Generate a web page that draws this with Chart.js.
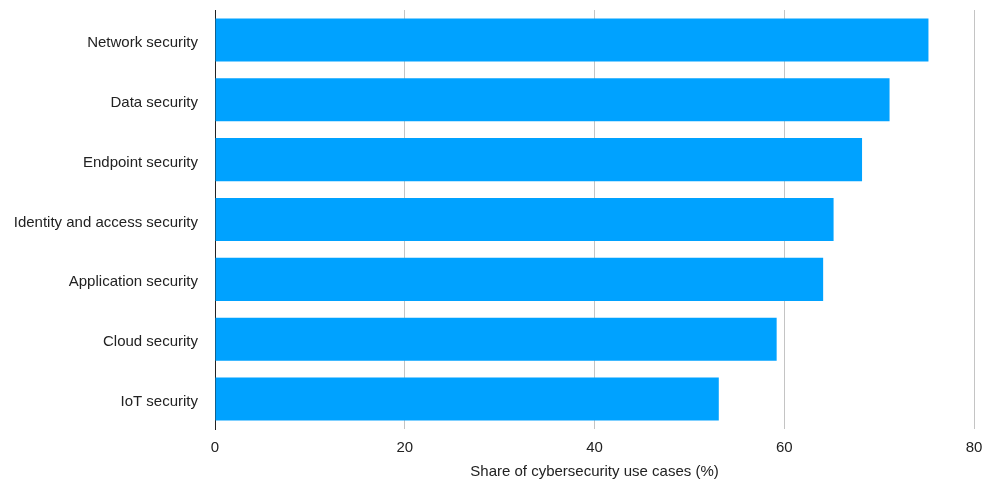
<!DOCTYPE html>
<html>
<head>
<meta charset="utf-8">
<script src="https://cdn.jsdelivr.net/npm/chart.js@4"></script>
<style>
  html, body { margin: 0; padding: 0; background: #fff; }
  #wrap { width: 984px; height: 485px; }
</style>
</head>
<body>
<div id="wrap"><canvas id="chart_use_cases" width="984" height="485"></canvas></div>
<script>
var categories = [
  'Network security',
  'Data security',
  'Endpoint security',
  'Identity and access security',
  'Application security',
  'Cloud security',
  'IoT security'
];
var shareValues = [75.2, 71.1, 68.2, 65.2, 64.1, 59.2, 53.1];
var xTicks = [0, 20, 40, 60, 80];
var axisTitle = 'Share of cybersecurity use cases (%)';

function createChart() {
  const chart = new Chart('chart_use_cases', {
    type: 'bar',
    data: {
      labels: categories,
      datasets: [{
        label: axisTitle,
        data: shareValues,
        backgroundColor: 'rgb(0, 162, 255)',
        borderWidth: 0,
        barPercentage: 0.72,
        categoryPercentage: 1.0
      }]
    },
    options: {
      indexAxis: 'y',
      responsive: false,
      animation: false,
      layout: { padding: { top: 10, right: 10, bottom: 0, left: 0 } },
      plugins: {
        legend: { display: false },
        tooltip: { enabled: false }
      },
      scales: {
        x: {
          min: 0,
          max: 80,
          afterBuildTicks: scale => {
            scale.ticks = xTicks.map(v => ({ value: v }));
          },
          afterFit: scale => {
            scale.height = 56;
            scale.paddingLeft = 0;
            scale.paddingRight = 0;
          },
          grid: { color: '#c4c4c4', lineWidth: 1, drawTicks: false },
          border: { display: false },
          ticks: {
            padding: 10,
            color: '#222',
            font: { family: '"Liberation Sans", Arial, sans-serif', size: 15 }
          },
          title: {
            display: true,
            text: axisTitle,
            color: '#222',
            padding: { top: 0, bottom: 4 },
            font: { family: '"Liberation Sans", Arial, sans-serif', size: 15 }
          }
        },
        y: {
          afterFit: scale => {
            scale.width = 215;
            scale.paddingTop = 0;
            scale.paddingBottom = 0;
          },
          grid: { display: false, drawTicks: false },
          border: { display: true, color: '#222', width: 1 },
          ticks: {
            padding: 17,
            labelOffset: 3,
            color: '#222',
            font: { family: '"Liberation Sans", Arial, sans-serif', size: 15 }
          }
        }
      }
    }
  });
  return chart;
}

createChart();
</script>
</body>
</html>
